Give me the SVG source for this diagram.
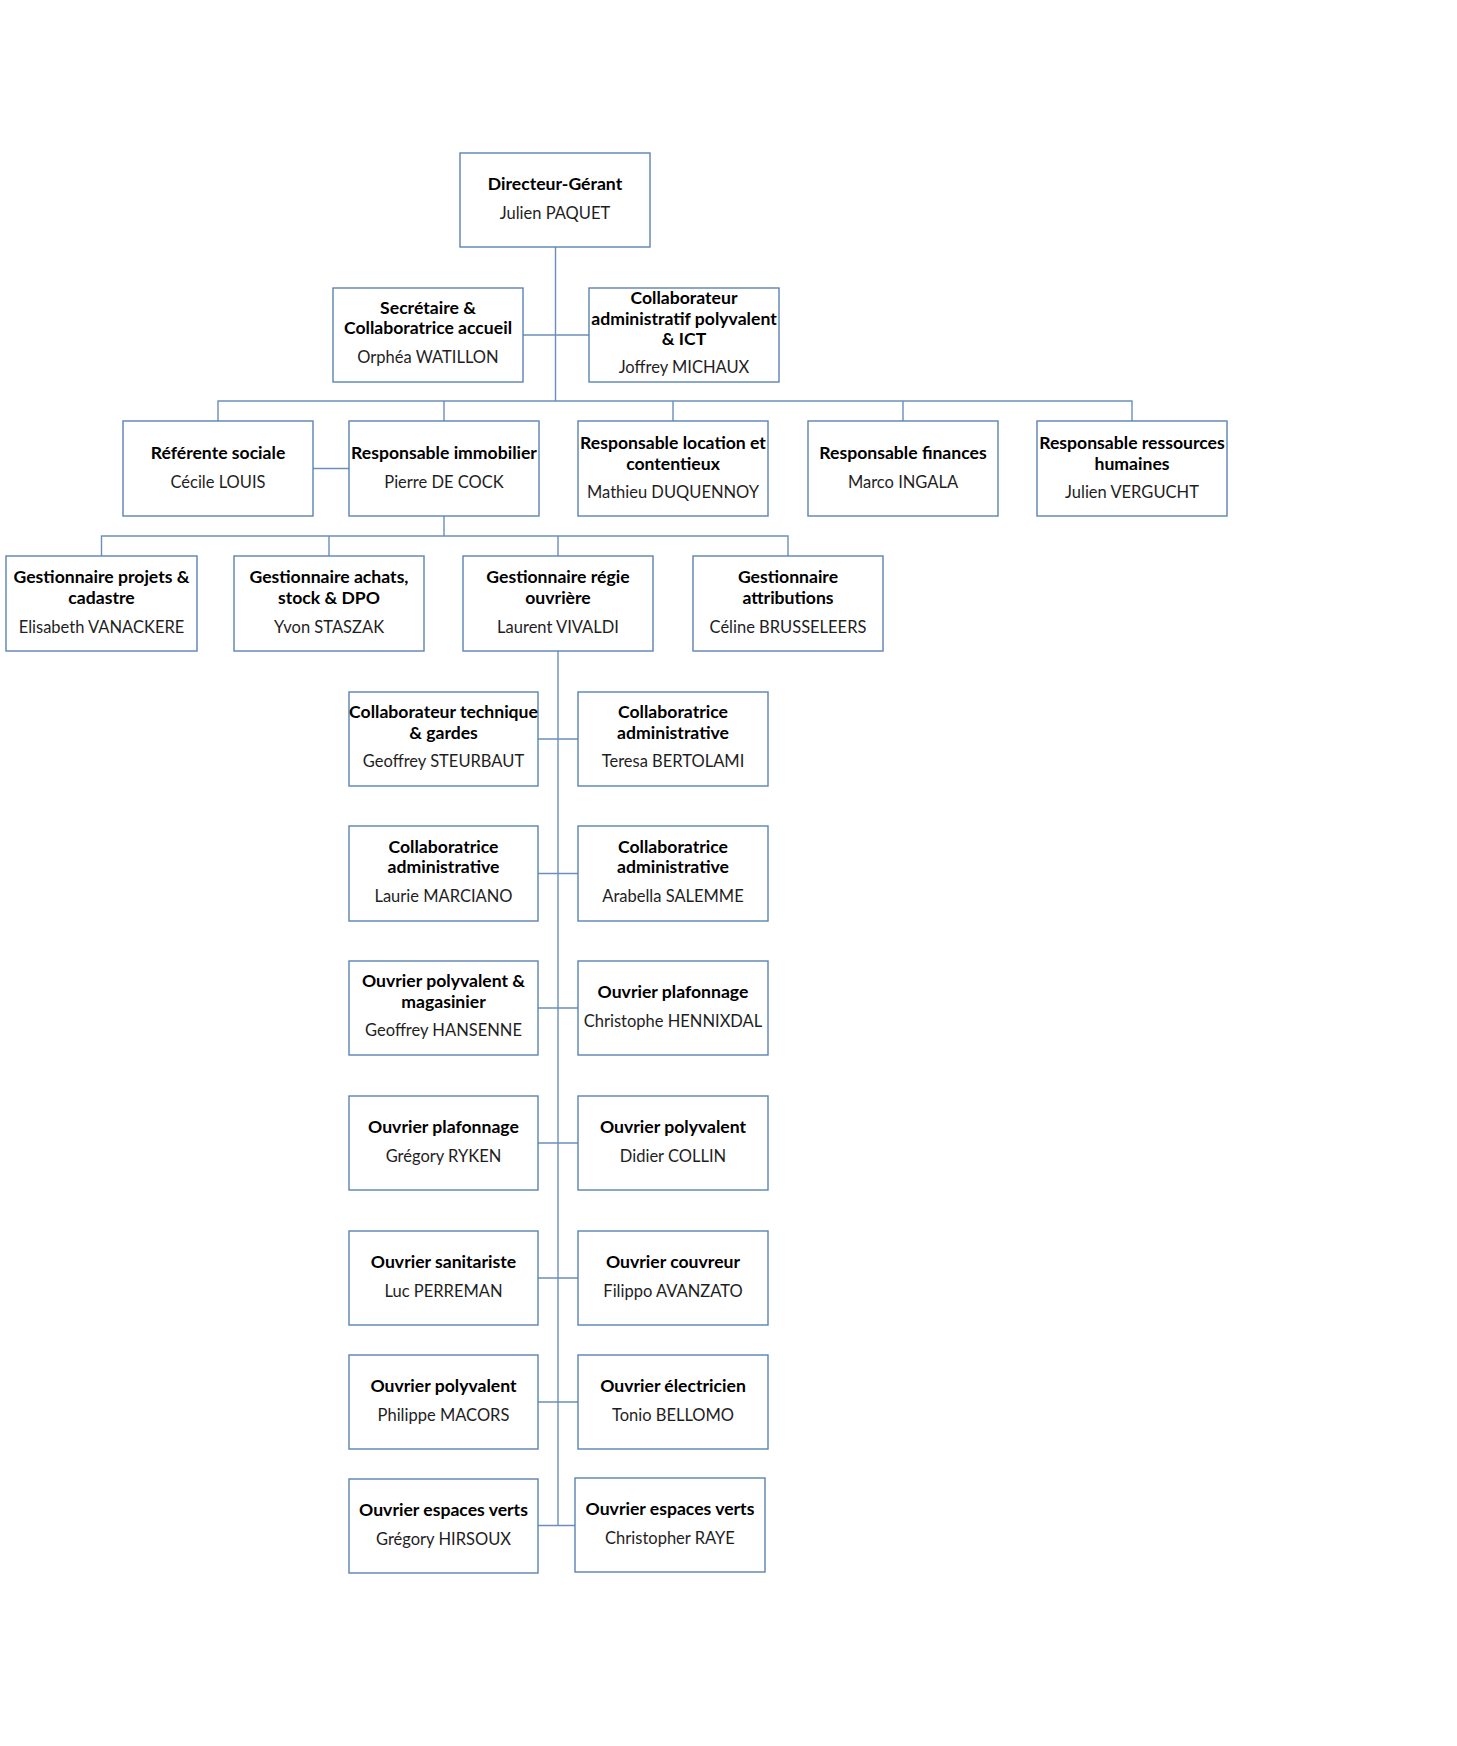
<svg xmlns="http://www.w3.org/2000/svg" width="1457" height="1746" viewBox="0 0 1457 1746">
<style>
.bx{fill:#fff;stroke:#5b83b1;stroke-width:1.4}
.cn{fill:none;stroke:#6b8fbb;stroke-width:1.4}
text{font-family:Lato,"Liberation Sans",sans-serif;text-anchor:middle}
.t{font-weight:700;fill:#000;font-size:17.6px}
.n{font-weight:400;fill:#1e1e1e;font-size:16.5px}
</style>
<rect width="1457" height="1746" fill="#fff"/>
<g id="connectors">
<path class="cn" d="M555.5 247V401M523 335H589M218 421V401H1132V421M444 401V421M673 401V421M903 401V421M313 468.5H349M444 516V536M101.5 556V536H788V556M329 536V556M558 536V556M558 651V1525.5"/>
<path class="cn" d="M538 739H578M538 873.5H578M538 1008H578M538 1143H578M538 1278H578M538 1402H578M538 1525.5H575"/>
</g>
<g id="directeur"><rect class="bx" x="460" y="153" width="190" height="94"/><text class="t" x="555" y="190">Directeur-Gérant</text><text class="n" x="555" y="219">Julien PAQUET</text></g>
<g id="secretaire"><rect class="bx" x="333" y="288" width="190" height="94"/><text class="t" x="428" y="314">Secrétaire &amp;</text><text class="t" x="428" y="334">Collaboratrice accueil</text><text class="n" x="428" y="363">Orphéa WATILLON</text></g>
<g id="ict"><rect class="bx" x="589" y="288" width="190" height="94"/><text class="t" x="684" y="304">Collaborateur</text><text class="t" x="684" y="325">administratif polyvalent</text><text class="t" x="684" y="345">&amp; ICT</text><text class="n" x="684" y="373">Joffrey MICHAUX</text></g>
<g id="referente"><rect class="bx" x="123" y="421" width="190" height="95"/><text class="t" x="218" y="459">Référente sociale</text><text class="n" x="218" y="488">Cécile LOUIS</text></g>
<g id="immobilier"><rect class="bx" x="349" y="421" width="190" height="95"/><text class="t" x="444" y="459">Responsable immobilier</text><text class="n" x="444" y="488">Pierre DE COCK</text></g>
<g id="location"><rect class="bx" x="578" y="421" width="190" height="95"/><text class="t" x="673" y="449">Responsable location et</text><text class="t" x="673" y="470">contentieux</text><text class="n" x="673" y="498">Mathieu DUQUENNOY</text></g>
<g id="finances"><rect class="bx" x="808" y="421" width="190" height="95"/><text class="t" x="903" y="459">Responsable finances</text><text class="n" x="903" y="488">Marco INGALA</text></g>
<g id="rh"><rect class="bx" x="1037" y="421" width="190" height="95"/><text class="t" x="1132" y="449">Responsable ressources</text><text class="t" x="1132" y="470">humaines</text><text class="n" x="1132" y="498">Julien VERGUCHT</text></g>
<g id="projets"><rect class="bx" x="6" y="556" width="191" height="95"/><text class="t" x="101.5" y="583">Gestionnaire projets &amp;</text><text class="t" x="101.5" y="604">cadastre</text><text class="n" x="101.5" y="633">Elisabeth VANACKERE</text></g>
<g id="achats"><rect class="bx" x="234" y="556" width="190" height="95"/><text class="t" x="329" y="583">Gestionnaire achats,</text><text class="t" x="329" y="604">stock &amp; DPO</text><text class="n" x="329" y="633">Yvon STASZAK</text></g>
<g id="regie"><rect class="bx" x="463" y="556" width="190" height="95"/><text class="t" x="558" y="583">Gestionnaire régie</text><text class="t" x="558" y="604">ouvrière</text><text class="n" x="558" y="633">Laurent VIVALDI</text></g>
<g id="attributions"><rect class="bx" x="693" y="556" width="190" height="95"/><text class="t" x="788" y="583">Gestionnaire</text><text class="t" x="788" y="604">attributions</text><text class="n" x="788" y="633">Céline BRUSSELEERS</text></g>
<g id="steurbaut"><rect class="bx" x="349" y="692" width="189" height="94"/><text class="t" x="443.5" y="718">Collaborateur technique</text><text class="t" x="443.5" y="739">&amp; gardes</text><text class="n" x="443.5" y="767">Geoffrey STEURBAUT</text></g>
<g id="bertolami"><rect class="bx" x="578" y="692" width="190" height="94"/><text class="t" x="673" y="718">Collaboratrice</text><text class="t" x="673" y="739">administrative</text><text class="n" x="673" y="767">Teresa BERTOLAMI</text></g>
<g id="marciano"><rect class="bx" x="349" y="826" width="189" height="95"/><text class="t" x="443.5" y="853">Collaboratrice</text><text class="t" x="443.5" y="873">administrative</text><text class="n" x="443.5" y="902">Laurie MARCIANO</text></g>
<g id="salemme"><rect class="bx" x="578" y="826" width="190" height="95"/><text class="t" x="673" y="853">Collaboratrice</text><text class="t" x="673" y="873">administrative</text><text class="n" x="673" y="902">Arabella SALEMME</text></g>
<g id="hansenne"><rect class="bx" x="349" y="961" width="189" height="94"/><text class="t" x="443.5" y="987">Ouvrier polyvalent &amp;</text><text class="t" x="443.5" y="1008">magasinier</text><text class="n" x="443.5" y="1036">Geoffrey HANSENNE</text></g>
<g id="hennixdal"><rect class="bx" x="578" y="961" width="190" height="94"/><text class="t" x="673" y="998">Ouvrier plafonnage</text><text class="n" x="673" y="1027">Christophe HENNIXDAL</text></g>
<g id="ryken"><rect class="bx" x="349" y="1096" width="189" height="94"/><text class="t" x="443.5" y="1133">Ouvrier plafonnage</text><text class="n" x="443.5" y="1162">Grégory RYKEN</text></g>
<g id="collin"><rect class="bx" x="578" y="1096" width="190" height="94"/><text class="t" x="673" y="1133">Ouvrier polyvalent</text><text class="n" x="673" y="1162">Didier COLLIN</text></g>
<g id="perreman"><rect class="bx" x="349" y="1231" width="189" height="94"/><text class="t" x="443.5" y="1268">Ouvrier sanitariste</text><text class="n" x="443.5" y="1297">Luc PERREMAN</text></g>
<g id="avanzato"><rect class="bx" x="578" y="1231" width="190" height="94"/><text class="t" x="673" y="1268">Ouvrier couvreur</text><text class="n" x="673" y="1297">Filippo AVANZATO</text></g>
<g id="macors"><rect class="bx" x="349" y="1355" width="189" height="94"/><text class="t" x="443.5" y="1392">Ouvrier polyvalent</text><text class="n" x="443.5" y="1421">Philippe MACORS</text></g>
<g id="bellomo"><rect class="bx" x="578" y="1355" width="190" height="94"/><text class="t" x="673" y="1392">Ouvrier électricien</text><text class="n" x="673" y="1421">Tonio BELLOMO</text></g>
<g id="hirsoux"><rect class="bx" x="349" y="1479" width="189" height="94"/><text class="t" x="443.5" y="1516">Ouvrier espaces verts</text><text class="n" x="443.5" y="1545">Grégory HIRSOUX</text></g>
<g id="raye"><rect class="bx" x="575" y="1478" width="190" height="94"/><text class="t" x="670" y="1515">Ouvrier espaces verts</text><text class="n" x="670" y="1544">Christopher RAYE</text></g>
</svg>
